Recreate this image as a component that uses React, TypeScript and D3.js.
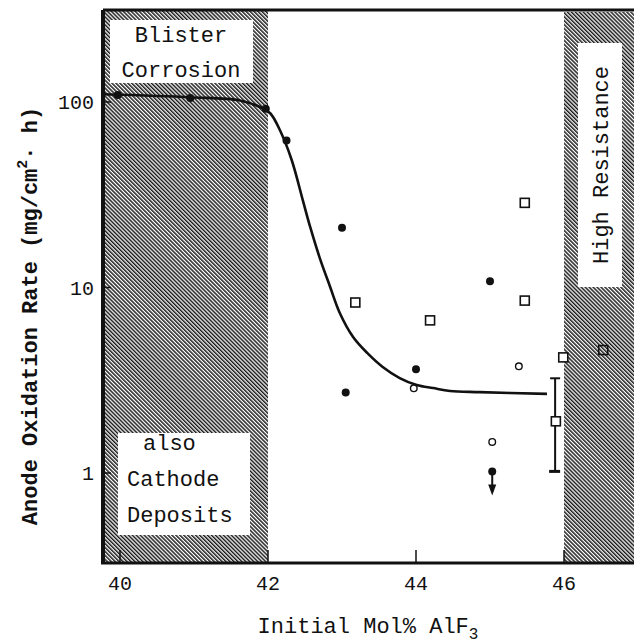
import React, { useEffect, useRef } from "react"
import * as d3 from "d3"

// fitted curve
const curveX = [39.77, 40.95, 41.62, 41.89, 42.03, 42.16, 42.32, 42.47, 42.57, 42.7, 42.84, 42.97, 43.15, 43.34, 43.55, 43.78, 44.01, 44.23, 44.46, 44.86, 45.77]
const curveY = [110, 106, 102, 94, 87, 70.6, 48.7, 29.6, 21.2, 14.4, 10.07, 7.29, 5.41, 4.44, 3.73, 3.25, 2.98, 2.87, 2.77, 2.73, 2.67]

// filled circles
const filledX = [39.97, 40.95, 41.97, 42.25, 43.0, 43.05, 44.0, 45.0, 45.03]
const filledY = [109, 105, 92, 62, 21, 2.72, 3.62, 10.8, 1.02]

// open circles
const openX = [43.97, 45.39, 45.03]
const openY = [2.86, 3.76, 1.47]

// open squares
const squareX = [43.18, 44.19, 45.47, 45.47, 45.99, 45.89, 46.53]
const squareY = [8.3, 6.65, 28.6, 8.5, 4.2, 1.9, 4.6]

// error bar
const errX = [45.88]
const errLow = [1.02]
const errHigh = [3.24]

const xTicks = [40, 42, 44, 46]
const yTicks = [1, 10, 100]

const W = 634
const H = 643
const font = "'Liberation Mono', 'DejaVu Sans Mono', monospace"

export default function App() {
  const ref = useRef<SVGSVGElement | null>(null)

  useEffect(() => {
    const svg = d3.select(ref.current)
    svg.selectAll("*").remove()

    const frame = { left: 103, top: 10, right: W + 5, bottom: 563 }

    const x = d3.scaleLinear().domain([40, 46]).range([120, 564])
    const y = d3.scaleLog().domain([1, 100]).range([473, 102])

    const defs = svg.append("defs")
    const pat = defs
      .append("pattern")
      .attr("id", "hatch")
      .attr("patternUnits", "userSpaceOnUse")
      .attr("width", 2.8)
      .attr("height", 10)
      .attr("patternTransform", "rotate(-45)")
    pat.append("rect").attr("width", 2.8).attr("height", 10).attr("fill", "#fff")
    pat.append("line").attr("x1", 0.7).attr("x2", 0.7).attr("y1", 0).attr("y2", 10)
      .attr("stroke", "#1a1a1a").attr("stroke-width", 1.6)

    defs.append("clipPath").attr("id", "plot")
      .append("rect")
      .attr("x", frame.left).attr("y", frame.top)
      .attr("width", frame.right - frame.left).attr("height", frame.bottom - frame.top)

    svg.append("rect").attr("width", W).attr("height", H).attr("fill", "#fff")

    // hatched regions
    svg.append("rect")
      .attr("x", frame.left).attr("y", frame.top)
      .attr("width", x(42) - frame.left).attr("height", frame.bottom - frame.top)
      .attr("fill", "url(#hatch)")
    svg.append("rect")
      .attr("x", x(46)).attr("y", frame.top + 2)
      .attr("width", frame.right - x(46)).attr("height", frame.bottom - frame.top - 2)
      .attr("fill", "url(#hatch)")

    // label boxes
    const box = (bx: number, by: number, bw: number, bh: number) =>
      svg.append("rect").attr("x", bx).attr("y", by).attr("width", bw).attr("height", bh).attr("fill", "#fff")

    box(110, 20, 143, 63)
    box(118, 433, 132, 102)
    box(578, 43, 44, 244)

    const txt = (tx: number, ty: number, s: string, anchor = "middle", size = 22) =>
      svg.append("text").attr("x", tx).attr("y", ty).attr("text-anchor", anchor)
        .attr("font-family", font).attr("font-size", size).attr("fill", "#111").text(s)

    txt(181, 42, "Blister")
    txt(181, 77, "Corrosion")
    txt(143, 450, "also", "start")
    txt(127, 486, "Cathode", "start")
    txt(127, 522, "Deposits", "start")
    svg.append("text")
      .attr("transform", "translate(608,165) rotate(-90)")
      .attr("text-anchor", "middle")
      .attr("font-family", font).attr("font-size", 22).attr("fill", "#111")
      .text("High Resistance")

    const plot = svg.append("g").attr("clip-path", "url(#plot)")

    // curve
    const pts: [number, number][] = curveX.map((d, i) => [d, curveY[i]])
    plot.append("path")
      .datum(pts)
      .attr("fill", "none").attr("stroke", "#111").attr("stroke-width", 2.6)
      .attr("d", d3.line<[number, number]>().x(d => x(d[0])).y(d => y(d[1])).curve(d3.curveCatmullRom))

    // error bar
    errX.forEach((ex, i) => {
      const g = plot.append("g").attr("stroke", "#111").attr("stroke-width", 2)
      g.append("line").attr("x1", x(ex)).attr("x2", x(ex)).attr("y1", y(errLow[i])).attr("y2", y(errHigh[i]))
      g.append("line").attr("x1", x(ex) - 6).attr("x2", x(ex) + 5).attr("y1", y(errLow[i])).attr("y2", y(errLow[i])).attr("stroke-width", 3)
      g.append("line").attr("x1", x(ex) - 5).attr("x2", x(ex) + 5).attr("y1", y(errHigh[i])).attr("y2", y(errHigh[i]))
    })

    // squares
    plot.append("g").selectAll("rect")
      .data(squareX)
      .join("rect")
      .attr("x", d => x(d) - 4.5)
      .attr("y", (d, i) => y(squareY[i]) - 4.5)
      .attr("width", 9).attr("height", 9)
      .attr("fill", (d, i) => (i === 6 ? "none" : "#fff"))
      .attr("stroke", "#111").attr("stroke-width", 1.6)

    // open circles
    plot.append("g").selectAll("circle")
      .data(openX)
      .join("circle")
      .attr("cx", d => x(d)).attr("cy", (d, i) => y(openY[i])).attr("r", 3.3)
      .attr("fill", "#fff").attr("stroke", "#111").attr("stroke-width", 1.4)

    // filled circles
    plot.append("g").selectAll("circle")
      .data(filledX)
      .join("circle")
      .attr("cx", d => x(d)).attr("cy", (d, i) => y(filledY[i])).attr("r", 4)
      .attr("fill", "#111")

    // down arrow under the lowest filled point
    const ax = x(filledX[8])
    const ay = y(filledY[8])
    plot.append("line").attr("x1", ax).attr("x2", ax).attr("y1", ay).attr("y2", ay + 16)
      .attr("stroke", "#111").attr("stroke-width", 2)
    plot.append("path")
      .attr("d", `M${ax - 4},${ay + 13} L${ax + 4},${ay + 13} L${ax},${ay + 24} Z`)
      .attr("fill", "#111")

    // frame
    const fr = svg.append("g").attr("stroke", "#111").attr("fill", "none")
    fr.append("line").attr("x1", frame.left).attr("x2", W).attr("y1", frame.top).attr("y2", frame.top).attr("stroke-width", 3)
    fr.append("line").attr("x1", frame.left).attr("x2", frame.left).attr("y1", frame.top).attr("y2", frame.bottom).attr("stroke-width", 4)
    fr.append("line").attr("x1", frame.left - 2).attr("x2", W).attr("y1", frame.bottom).attr("y2", frame.bottom).attr("stroke-width", 3)

    // ticks
    xTicks.forEach(t => {
      svg.append("line").attr("x1", x(t)).attr("x2", x(t)).attr("y1", frame.bottom).attr("y2", frame.bottom - 13)
        .attr("stroke", "#111").attr("stroke-width", 1.5)
      txt(x(t), 590, String(t), "middle", 20)
    })
    yTicks.forEach(t => {
      svg.append("line").attr("x1", frame.left).attr("x2", frame.left + 8).attr("y1", y(t)).attr("y2", y(t))
        .attr("stroke", "#111").attr("stroke-width", 1.5)
      txt(94, y(t) + 7, String(t), "end", 20)
    })

    // axis titles
    const yl = svg.append("text")
      .attr("transform", "translate(37,316) rotate(-90)")
      .attr("text-anchor", "middle")
      .attr("font-family", font).attr("font-size", 22).attr("font-weight", "bold").attr("fill", "#111")
    yl.append("tspan").text("Anode Oxidation Rate (mg/cm")
    yl.append("tspan").attr("dy", -10).attr("font-size", 15).text("2")
    yl.append("tspan").attr("dy", 10).text("\u00b7 h)")

    const xl = svg.append("text")
      .attr("x", 368).attr("y", 633)
      .attr("text-anchor", "middle")
      .attr("font-family", font).attr("font-size", 22).attr("fill", "#111")
    xl.append("tspan").text("Initial Mol% AlF")
    xl.append("tspan").attr("dy", 6).attr("font-size", 16).text("3")
  }, [])

  return (
    <svg
      ref={ref}
      width={W}
      height={H}
      style={{ position: "absolute", left: 0, top: 0 }}
    />
  )
}
